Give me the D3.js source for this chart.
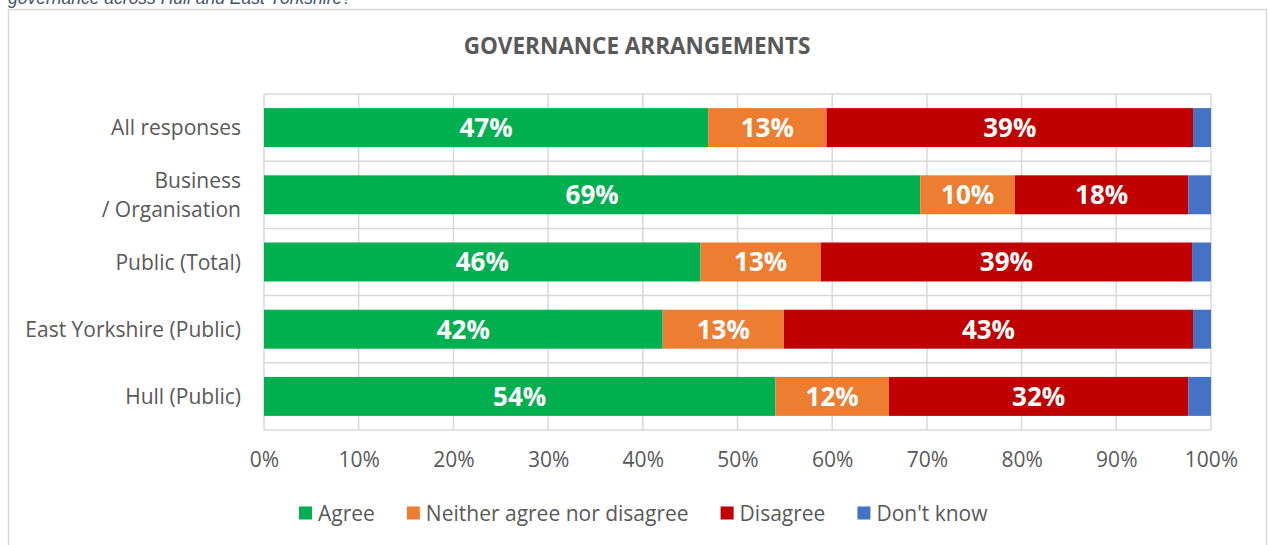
<!DOCTYPE html>
<html>
<head>
<meta charset="utf-8">
<script src="https://cdn.jsdelivr.net/npm/d3@7"></script>
<style>
  html, body { margin: 0; padding: 0; background: #ffffff; }
  svg { display: block; }
</style>
</head>
<body>
<svg id="chart" width="1269" height="545"></svg>
<script>
// Survey groups, top to bottom
const categories = [
  "All responses",
  "Business\n/ Organisation",
  "Public (Total)",
  "East Yorkshire (Public)",
  "Hull (Public)"
];

// Response options (stack order, left to right)
const seriesNames = ["Agree", "Neither agree nor disagree", "Disagree", "Don't know"];
const seriesColors = ["#00B050", "#ED7D31", "#C00000", "#4472C4"];

// Share of responses per group, in percent
const agree    = [46.9, 69.3, 46.1, 42.1, 54.0];
const neither  = [12.5, 10.0, 12.7, 12.8, 12.0];
const disagree = [38.7, 18.3, 39.2, 43.2, 31.6];
const dontKnow = [1.9, 2.4, 2.0, 1.9, 2.4];

const xTicks = [0, 10, 20, 30, 40, 50, 60, 70, 80, 90, 100];

const rows = categories.map((c, i) => ({
  category: c,
  "Agree": agree[i],
  "Neither agree nor disagree": neither[i],
  "Disagree": disagree[i],
  "Don't know": dontKnow[i]
}));

const svg = d3.select("#chart");
const font = "'Open Sans', 'Noto Sans', sans-serif";
const textGrey = "#595959";
const gridGrey = "#D9D9D9";
const labelSize = 21;

// Caption line above the chart frame (mostly clipped by the top edge)
svg.append("text")
  .attr("x", 8).attr("y", 4)
  .attr("font-family", "'Liberation Sans', Arial, sans-serif")
  .attr("font-style", "italic")
  .attr("font-size", 17.5)
  .attr("fill", "#44546A")
  .text("governance across Hull and East Yorkshire?");

// Chart frame
svg.append("rect")
  .attr("x", 8.5).attr("y", 9.5)
  .attr("width", 1258).attr("height", 545)
  .attr("fill", "#ffffff")
  .attr("stroke", gridGrey).attr("stroke-width", 1.5);

// Title
svg.append("text")
  .attr("x", 637).attr("y", 54)
  .attr("text-anchor", "middle")
  .attr("font-family", font)
  .attr("font-weight", 700)
  .attr("font-size", 22.5)
  .attr("fill", textGrey)
  .text("GOVERNANCE ARRANGEMENTS");

const plot = { left: 264, right: 1211, top: 94, bottom: 430 };

const x = d3.scaleLinear().domain([0, 100]).range([plot.left, plot.right]);
const y = d3.scaleBand().domain(categories).range([plot.top, plot.bottom]).paddingInner(0.42).paddingOuter(0.21);
const yOuter = d3.scaleBand().domain(categories).range([plot.top, plot.bottom]);

// Vertical gridlines
svg.append("g")
  .selectAll("line")
  .data(xTicks)
  .join("line")
  .attr("x1", d => x(d)).attr("x2", d => x(d))
  .attr("y1", plot.top).attr("y2", plot.bottom)
  .attr("stroke", gridGrey).attr("stroke-width", 1.5);

// Category separators
const seps = categories.map(c => yOuter(c)).concat([plot.bottom]);
svg.append("g")
  .selectAll("line")
  .data(seps)
  .join("line")
  .attr("x1", plot.left).attr("x2", plot.right)
  .attr("y1", d => d).attr("y2", d => d)
  .attr("stroke", gridGrey).attr("stroke-width", 1.5);

// Stacked bars
const stack = d3.stack().keys(seriesNames)(rows);
const color = d3.scaleOrdinal().domain(seriesNames).range(seriesColors);

const layers = svg.append("g")
  .selectAll("g")
  .data(stack)
  .join("g")
  .attr("fill", d => color(d.key));

layers.selectAll("rect")
  .data(d => d)
  .join("rect")
  .attr("x", d => x(d[0]))
  .attr("y", d => y(d.data.category))
  .attr("width", d => x(d[1]) - x(d[0]))
  .attr("height", y.bandwidth());

// Value labels (skip the thin "Don't know" slices)
const fmt = v => d3.format(".0f")(v) + "%";
layers.filter(d => d.key !== "Don't know")
  .selectAll("text")
  .data(d => d)
  .join("text")
  .attr("x", d => (x(d[0]) + x(d[1])) / 2)
  .attr("y", d => y(d.data.category) + y.bandwidth() / 2)
  .attr("dy", "0.36em")
  .attr("text-anchor", "middle")
  .attr("font-family", font)
  .attr("font-weight", 700)
  .attr("font-size", 26)
  .attr("fill", "#ffffff")
  .text(d => fmt(d[1] - d[0]));

// X axis tick labels
const xAxis = svg.append("g")
  .attr("transform", `translate(0,${plot.bottom})`)
  .call(d3.axisBottom(x).tickValues(xTicks).tickSize(0).tickPadding(22).tickFormat(d => d + "%"));
xAxis.select(".domain").remove();
xAxis.selectAll("text")
  .attr("font-family", font)
  .attr("font-size", labelSize)
  .attr("fill", textGrey);

// Y axis category labels (multi-line where needed)
const yAxis = svg.append("g")
  .attr("transform", `translate(${plot.left},0)`)
  .call(d3.axisLeft(yOuter).tickSize(0).tickPadding(23).tickFormat(""));
yAxis.select(".domain").remove();
yAxis.selectAll(".tick").each(function(d) {
  const lines = d.split("\n");
  const t = d3.select(this).append("text")
    .attr("x", -23)
    .attr("text-anchor", "end")
    .attr("font-family", font)
    .attr("font-size", labelSize)
    .attr("fill", textGrey);
  const lh = 29;
  lines.forEach((ln, i) => {
    t.append("tspan")
      .attr("x", -23)
      .attr("y", (i - (lines.length - 1) / 2) * lh)
      .attr("dy", "0.36em")
      .text(ln);
  });
});

// Legend
const legendItems = seriesNames.map((n, i) => ({ name: n, color: seriesColors[i] }));
const legend = svg.append("g").attr("transform", "translate(0,513)");
let lx = 299;
legendItems.forEach(item => {
  const g = legend.append("g").attr("transform", `translate(${lx},0)`);
  g.append("rect").attr("x", 0).attr("y", -6.5).attr("width", 13).attr("height", 13).attr("fill", item.color);
  const t = g.append("text")
    .attr("x", 19).attr("y", 0).attr("dy", "0.36em")
    .attr("font-family", font)
    .attr("font-size", labelSize)
    .attr("fill", textGrey)
    .text(item.name);
  lx += 19 + t.node().getComputedTextLength() + 32;
});
</script>
</body>
</html>
